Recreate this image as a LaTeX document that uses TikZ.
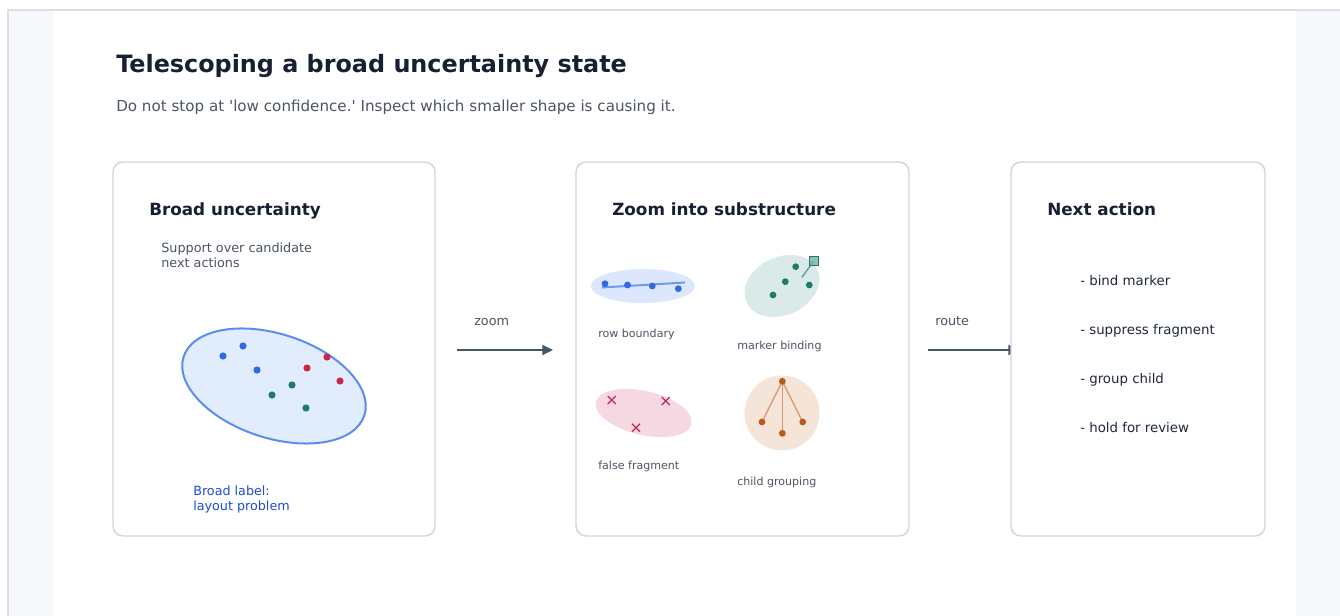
\documentclass[tikz,border=0pt]{standalone}
\usepackage{fontspec}
\setmainfont{DejaVu Sans}
\usetikzlibrary{arrows.meta}
\definecolor{frameline}{HTML}{D9DEE8}
\definecolor{framefill}{HTML}{F6F8FC}
\definecolor{titlecol}{HTML}{172033}
\definecolor{subcol}{HTML}{4B5563}
\definecolor{cardline}{HTML}{D1D5DE}
\definecolor{arrowcol}{HTML}{475569}
\definecolor{bluedot}{HTML}{3069E4}
\definecolor{blueline}{HTML}{5B8DEF}
\definecolor{bluefill}{HTML}{E1ECFD}
\definecolor{bluelabel}{HTML}{1D4ED8}
\definecolor{reddot}{HTML}{C8284A}
\definecolor{greendot}{HTML}{1F7A6E}
\definecolor{rowfill}{HTML}{DCE6FD}
\definecolor{tealfill}{HTML}{DAEAE8}
\definecolor{pinkfill}{HTML}{F5D8E1}
\definecolor{peachfill}{HTML}{F5E5D9}
\definecolor{orangedot}{HTML}{B85C1A}
\definecolor{orangeline}{HTML}{DA9A70}
\definecolor{itemcol}{HTML}{1F2937}
\tikzset{
  card/.style={draw=cardline, line width=1.1pt, fill=white, rounded corners=7.5pt, minimum height=280.5pt, inner sep=0pt},
  flow/.style={draw=arrowcol, line width=1.5pt, -{Triangle[length=8pt,width=7.5pt]}},
  cardtitle/.style={anchor=base west, inner sep=0pt, text=titlecol, font=\fontsize{12.6}{14}\selectfont\bfseries},
  smalltxt/.style={anchor=base west, inner sep=0pt, text=subcol, font=\fontsize{8.3}{10}\selectfont},
  midtxt/.style={anchor=base west, inner sep=0pt, text=subcol, font=\fontsize{9.6}{11}\selectfont},
  itemtxt/.style={anchor=base west, inner sep=0pt, text=itemcol, font=\fontsize{10}{12}\selectfont},
}
\begin{document}
\begin{tikzpicture}[x=0.75pt,y=-0.75pt]
\useasboundingbox (0,0) rectangle (1340,616);
% frame
\draw[draw=frameline, fill=framefill, line width=1.5pt] (8,10) rectangle (1345,620);
\fill[white] (54,11) rectangle (1296,616);
% title
\node[anchor=base west, inner sep=0pt, text=titlecol, font=\fontsize{17.9}{21}\selectfont\bfseries] (title) at (116,73) {Telescoping a broad uncertainty state};
\node[anchor=base west, inner sep=0pt, text=subcol, font=\fontsize{11.35}{13}\selectfont] (subtitle) at (116,112) {Do not stop at \textquotesingle low confidence.\textquotesingle\ Inspect which smaller shape is causing it.};
% arrows (drawn under cards)
\coordinate (z1) at (457,350);
\coordinate (z2) at (553,350);
\coordinate (r1) at (928,350);
\coordinate (r2) at (1019,350);
\draw[flow] (z1) -- (z2);
\draw[flow] (r1) -- (r2);
\node[midtxt] (zoomlbl) at (474,326) {zoom};
\node[midtxt] (routelbl) at (935,326) {route};
% cards
\node[card, minimum width=241.5pt] (c1) at (274,349) {};
\node[card, minimum width=249.75pt] (c2) at (742.5,349) {};
\node[card, minimum width=190.5pt] (c3) at (1138,349) {};
% card 1
\node[cardtitle] (t1) at (149,215.5) {Broad uncertainty};
\node[midtxt] (s1) at (161,253) {Support over candidate};
\node[midtxt] (s2) at (161,267.5) {next actions};
\draw[draw=blueline, fill=bluefill, line width=1.5pt, rotate around={-18:(274,386)}] (274,386) ellipse [x radius=95, y radius=52];
\foreach \p in {(223,356),(243,346),(257,370)} \fill[bluedot] \p circle [radius=3.6];
\foreach \p in {(327,357),(307,368),(340,381)} \fill[reddot] \p circle [radius=3.6];
\foreach \p in {(292,385),(272,395),(306,408)} \fill[greendot] \p circle [radius=3.6];
\node[anchor=base west, inner sep=0pt, text=bluelabel, font=\fontsize{9.55}{11}\selectfont] (b1) at (193,496) {Broad label:};
\node[anchor=base west, inner sep=0pt, text=bluelabel, font=\fontsize{9.55}{11}\selectfont] (b2) at (193,510.5) {layout problem};
% card 2
\node[cardtitle] (t2) at (612,215.5) {Zoom into substructure};
% row boundary
\fill[rowfill] (643,286) ellipse [x radius=52, y radius=17];
\draw[blueline, opacity=0.85, line width=1.5pt] (602,287.5) -- (685,282.5);
\foreach \p in {(605,283.7),(627.5,285),(652.3,286),(678.3,288.7)} \fill[bluedot] \p circle [radius=3.4];
\node[smalltxt] (l1) at (598,337.5) {row boundary};
% marker binding
\fill[tealfill, rotate around={25:(782,286)}] (782,286) ellipse [x radius=39, y radius=29];
\draw[greendot!70, line width=1.1pt] (802,277.3) -- (813.7,261);
\draw[greendot, fill=greendot!60, fill opacity=0.8, line width=0.8pt] (809.2,256.5) rectangle (818.2,265.5);
\foreach \p in {(795.7,266.7),(785.3,281.7),(809.3,285),(773,295)} \fill[greendot] \p circle [radius=3.4];
\node[smalltxt] (l2) at (737,349.5) {marker binding};
% false fragment
\fill[pinkfill, rotate around={-13:(643.7,413)}] (643.7,413) ellipse [x radius=49, y radius=22];
\foreach \p in {(611.7,400),(665.7,401),(636,427.7)}
  \draw[reddot, line width=0.9pt] \p ++(-4,-4) -- ++(8,8) \p ++(-4,4) -- ++(8,-8);
\node[smalltxt] (l3) at (598,469.5) {false fragment};
% child grouping
\fill[peachfill] (782,413) circle [radius=37.5];
\coordinate (root) at (782.3,381.3);
\coordinate (ch1) at (762,422);
\coordinate (ch2) at (782.3,433.3);
\coordinate (ch3) at (802.7,422);
\foreach \c in {ch1,ch2,ch3} \draw[orangeline, line width=1pt] (root) -- (\c);
\foreach \c in {root,ch1,ch2,ch3} \fill[orangedot] (\c) circle [radius=3.4];
\node[smalltxt] (l4) at (737,485.5) {child grouping};
% card 3
\node[cardtitle] (t3) at (1047,215.5) {Next action};
\node[itemtxt] (i1) at (1080,285.5) {- bind marker};
\node[itemtxt] (i2) at (1080,334.5) {- suppress fragment};
\node[itemtxt] (i3) at (1080,383.5) {- group child};
\node[itemtxt] (i4) at (1080,432.5) {- hold for review};
\end{tikzpicture}
\end{document}
